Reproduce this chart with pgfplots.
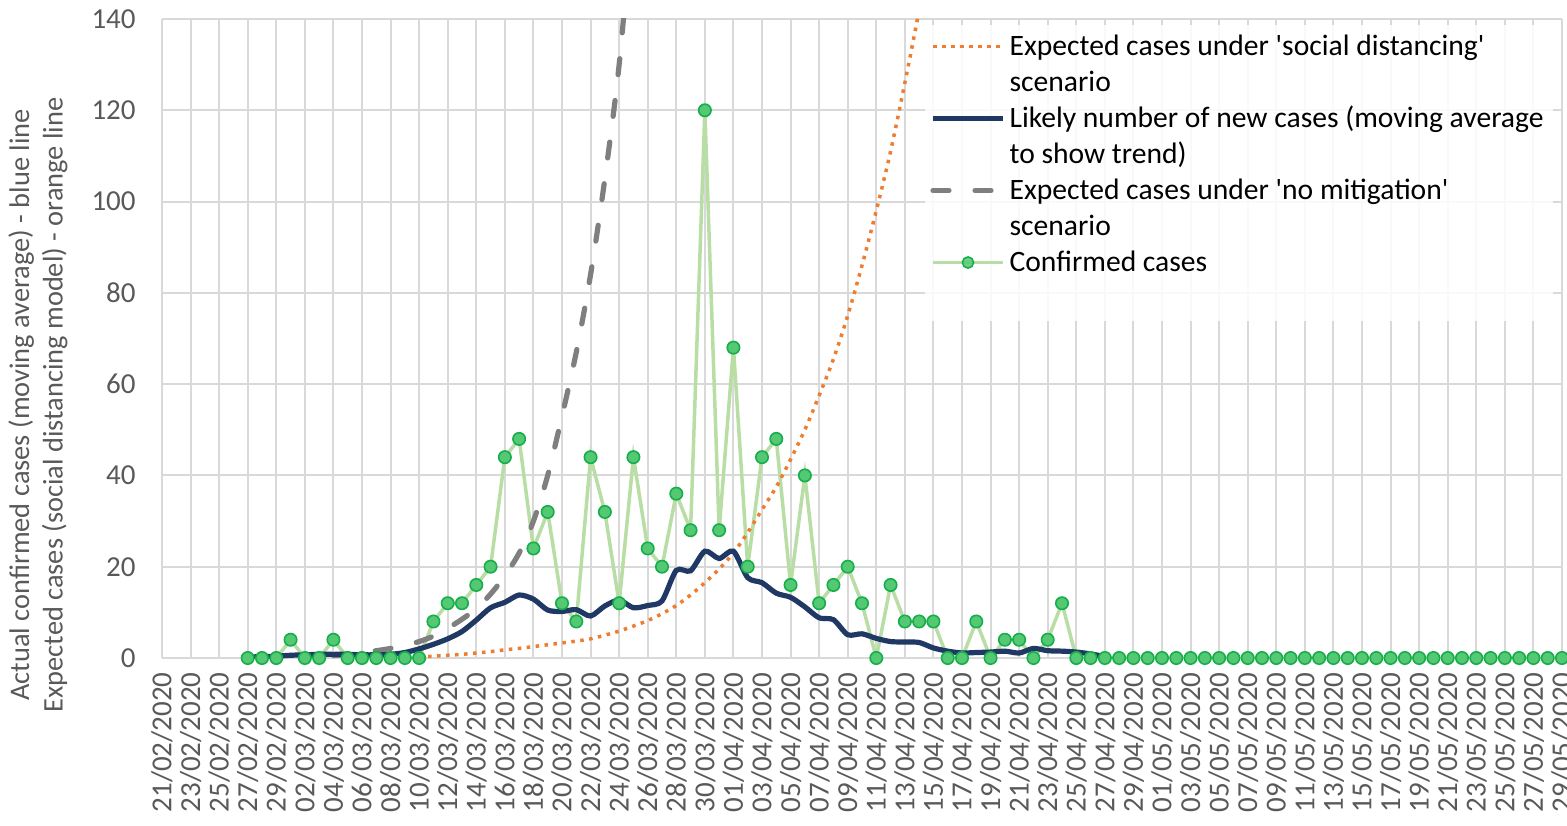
\documentclass[border=0pt]{standalone}
\usepackage{pgfplots}
\pgfplotsset{compat=1.18}
\usepackage{pgfplotstable}
\usepackage{fontspec}
\setmainfont{Carlito}
\definecolor{gridgray}{HTML}{D9D9D9}
\definecolor{ticktext}{HTML}{595959}
\definecolor{navyc}{HTML}{1F3864}
\definecolor{orangec}{HTML}{ED7D31}
\definecolor{grayd}{HTML}{7F7F7F}
\definecolor{greenl}{RGB}{185,222,165}
\definecolor{greenm}{RGB}{85,200,115}
\definecolor{greene}{RGB}{20,175,75}

\pgfplotstableread{
d c
6 0
7 0
8 0
9 4
10 0
11 0
12 4
13 0
14 0
15 0
16 0
17 0
18 0
19 8
20 12
21 12
22 16
23 20
24 44
25 48
26 24
27 32
28 12
29 8
30 44
31 32
32 12
33 44
34 24
35 20
36 36
37 28
38 120
39 28
40 68
41 20
42 44
43 48
44 16
45 40
46 12
47 16
48 20
49 12
50 0
51 16
52 8
53 8
54 8
55 0
56 0
57 8
58 0
59 4
60 4
61 0
62 4
63 12
64 0
65 0
66 0
67 0
68 0
69 0
70 0
71 0
72 0
73 0
74 0
75 0
76 0
77 0
78 0
79 0
80 0
81 0
82 0
83 0
84 0
85 0
86 0
87 0
88 0
89 0
90 0
91 0
92 0
93 0
94 0
95 0
96 0
97 0
98 0
}\confirmed

\pgfplotstableread{
d m
6 0.2
7 0.3
8 0.4
9 0.6
10 0.7
11 0.8
12 0.8
13 0.8
14 0.7
15 0.7
16 0.8
17 1.2
18 2.0
19 3.0
20 4.2
21 5.8
22 8.3
23 11.0
24 12.2
25 13.8
26 12.9
27 10.5
28 10.2
29 10.6
30 9.2
31 11.4
32 12.7
33 11.0
34 11.5
35 12.5
36 19.2
37 19.1
38 23.4
39 21.8
40 23.4
41 17.6
42 16.5
43 14.2
44 13.3
45 11.2
46 8.8
47 8.4
48 5.1
49 5.3
50 4.3
51 3.6
52 3.5
53 3.4
54 2.2
55 1.5
56 1.1
57 1.2
58 1.3
59 1.5
60 1.1
61 2.1
62 1.6
63 1.5
64 1.3
65 0.9
66 0.3
}\movavg

\pgfplotstableread{
d g
12 0.5
13 0.8
14 1.2
15 1.6
16 2.1
17 2.8
18 3.6
19 4.8
20 6.5
21 8.5
22 10.8
23 14
24 18
25 23
26 30
27 40
28 53
29 67
30 84
31 105
32 130
33 165
}\nomit

\pgfplotstableread{
d o
18 0.2
19 0.4
20 0.6
21 0.8
22 1.1
23 1.4
24 1.8
25 2.1
26 2.5
27 2.9
28 3.3
29 3.7
30 4.2
31 5.0
32 5.9
33 7.0
34 8.2
35 9.7
36 11.5
37 13.8
38 16.5
39 19.5
40 23
41 27.5
42 32.5
43 37.5
44 43.5
45 50
46 57.5
47 65.5
48 75
49 86
50 98
51 111
52 126
53 142
54 160
}\socdist

\begin{document}
\begin{tikzpicture}
\path[use as bounding box] (0,0) rectangle (783.5pt,412.5pt);
\begin{axis}[
  at={(81pt,83.5pt)}, anchor=south west,
  scale only axis, width=700pt, height=319.5pt,
  xmin=0, xmax=98, ymin=0, ymax=140,
  xtick={0,2,...,98},
  xticklabels={21/02/2020,23/02/2020,25/02/2020,27/02/2020,29/02/2020,02/03/2020,04/03/2020,06/03/2020,08/03/2020,10/03/2020,12/03/2020,14/03/2020,16/03/2020,18/03/2020,20/03/2020,22/03/2020,24/03/2020,26/03/2020,28/03/2020,30/03/2020,01/04/2020,03/04/2020,05/04/2020,07/04/2020,09/04/2020,11/04/2020,13/04/2020,15/04/2020,17/04/2020,19/04/2020,21/04/2020,23/04/2020,25/04/2020,27/04/2020,29/04/2020,01/05/2020,03/05/2020,05/05/2020,07/05/2020,09/05/2020,11/05/2020,13/05/2020,15/05/2020,17/05/2020,19/05/2020,21/05/2020,23/05/2020,25/05/2020,27/05/2020,29/05/2020},
  ytick={0,20,...,140},
  grid=major,
  grid style={draw=gridgray, line width=1pt},
  axis line style={draw=none},
  major tick length=0pt,
  /pgf/number format/assume math mode=true,
  tick label style={font=\fontsize{14.5}{17}\selectfont, text=ticktext},
  x tick label style={rotate=90, anchor=east, inner xsep=7pt},
  y tick label style={anchor=east, inner xsep=13pt},
  ylabel={Actual confirmed cases (moving average) - blue line\\Expected cases (social distancing model) - orange line},
  ylabel style={at={(axis description cs:-0.0886,0.396)}, anchor=center, align=center, font=\fontsize{14.2}{16.8}\selectfont, text=ticktext},
  legend image code/.code={\draw[mark repeat=2,mark phase=2,#1] plot coordinates {(0pt,0pt) (17.5pt,0pt) (35pt,0pt)};},
  legend style={at={(axis description cs:0.545,0.992)}, anchor=north west, draw=none, fill=white, fill opacity=0.85, text opacity=1, inner xsep=2.5pt, inner ysep=3pt, row sep=2pt, column sep=0pt, font=\fontsize{14.8}{17}\selectfont, cells={anchor=west}, nodes={inner xsep=2pt, inner ysep=0pt, text height=12.5pt, text depth=3.5pt}},
  legend cell align=left,
  clip=true,
]
\addplot[forget plot, greenl, line width=1.75pt] table[x=d, y=c] {\confirmed};
\addplot[forget plot, orangec, line width=1.75pt, dash pattern=on 1.75pt off 2.75pt, smooth] table[x=d, y=o] {\socdist};
\addplot[forget plot, grayd, line width=2.6pt, dash pattern=on 8pt off 13pt, line cap=round, smooth] table[x=d, y=g] {\nomit};
\addplot[forget plot, navyc, line width=2.6pt, smooth, tension=0.45] table[x=d, y=m] {\movavg};
\addplot[forget plot, only marks, mark=*, mark size=3.1pt, mark options={fill=greenm, draw=greene, line width=0.8pt}] table[x=d, y=c] {\confirmed};

\addlegendimage{orangec, line width=1.75pt, dash pattern=on 1.75pt off 2.75pt}
\addlegendentry{Expected cases under \textquotesingle social distancing\textquotesingle}
\addlegendimage{empty legend}
\addlegendentry{scenario}
\addlegendimage{navyc, line width=2.6pt}
\addlegendentry{Likely number of new cases (moving average}
\addlegendimage{empty legend}
\addlegendentry{to show trend)}
\addlegendimage{grayd, line width=2.6pt, dash pattern=on 8pt off 13pt, line cap=round}
\addlegendentry{Expected cases under \textquotesingle no mitigation\textquotesingle}
\addlegendimage{empty legend}
\addlegendentry{scenario}
\addlegendimage{greenl, line width=1.75pt, mark=*, mark size=2.8pt, mark options={fill=greenm, draw=greene, line width=0.8pt}}
\addlegendentry{Confirmed cases}
\addlegendimage{empty legend}
\addlegendentry{}
\end{axis}
\end{tikzpicture}
\end{document}
